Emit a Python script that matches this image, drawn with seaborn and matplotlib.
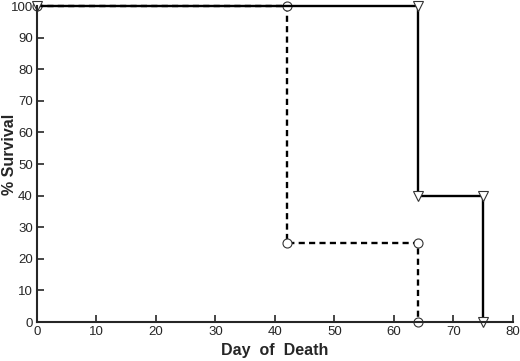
import matplotlib
matplotlib.use("Agg")
import matplotlib.pyplot as plt
import seaborn as sns
import pandas as pd

# Survival curves (Kaplan-Meier style step points)
solid_days = [0, 64, 64, 75, 75]
solid_surv = [100, 100, 40, 40, 0]
dashed_days = [0, 42, 42, 64, 64]
dashed_surv = [100, 100, 25, 25, 0]
x_ticks = [0, 10, 20, 30, 40, 50, 60, 70, 80]
y_ticks = [0, 10, 20, 30, 40, 50, 60, 70, 80, 90, 100]

sns.set_style("ticks")
plt.rcParams['font.family'] = ['Liberation Sans', 'DejaVu Sans']

fig = plt.figure(figsize=(5.2, 3.61), dpi=100)
ax = fig.add_axes([0.071, 0.108, 0.915, 0.875])

df_s = pd.DataFrame({"day": solid_days, "surv": solid_surv})
df_d = pd.DataFrame({"day": dashed_days, "surv": dashed_surv})

sns.lineplot(data=df_d, x="day", y="surv", ax=ax, sort=False, estimator=None,
             color="black", linewidth=1.7, linestyle=(0, (2.6, 1.8)),
             marker="o", markersize=6.5, markerfacecolor="white",
             markeredgecolor="#333333", markeredgewidth=0.8, clip_on=False)
sns.lineplot(data=df_s, x="day", y="surv", ax=ax, sort=False, estimator=None,
             color="black", linewidth=1.7, linestyle="-",
             marker="v", markersize=7, markerfacecolor="white",
             markeredgecolor="#333333", markeredgewidth=0.8, clip_on=False)

ax.set_xlim(0, 80)
ax.set_ylim(0, 100)
ax.set_xticks(x_ticks)
ax.set_yticks(y_ticks)
ax.tick_params(direction="in", length=5, width=1.2, labelsize=9.5, pad=3)
sns.despine(ax=ax)
ax.spines['left'].set_linewidth(1.5)
ax.spines['bottom'].set_linewidth(1.5)
ax.set_xlabel("Day  of  Death", fontsize=11.5, fontweight="bold")
ax.xaxis.set_label_coords(0.5, -0.066)
ax.set_ylabel("% Survival", fontsize=11.5, fontweight="bold")
ax.yaxis.set_label_coords(-0.042, 0.53)

fig.savefig("out.png", dpi=100)
